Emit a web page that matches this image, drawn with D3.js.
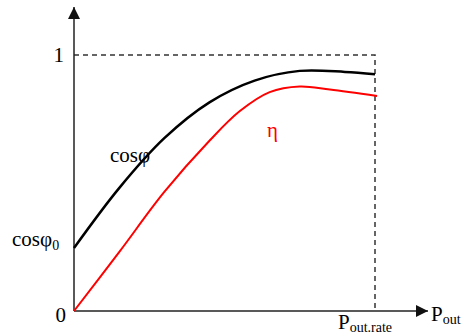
<!DOCTYPE html>
<head>
  <meta charset="UTF-8" />
  <script src="https://d3js.org/d3.v7.min.js"></script>
  <style>
    body { margin: 0; background: #fff; }
    text { font-family: "Liberation Serif", "DejaVu Serif", serif; }
  </style>
</head>
<body>
  <script>
    var width = 464,
      height = 335;

    // Pout / Pout.rate
    var cosX = [0, 0.15, 0.3, 0.45, 0.6, 0.75, 0.9, 1.0];
    var cosY = [0.246, 0.48, 0.675, 0.815, 0.9, 0.938, 0.934, 0.925];
    var etaX = [0, 0.15, 0.3, 0.45, 0.55, 0.65, 0.75, 0.85, 1.007];
    var etaY = [0, 0.23, 0.465, 0.665, 0.78, 0.855, 0.877, 0.865, 0.84];

    var svg = d3.select("body").append("svg")
      .attr("width", width)
      .attr("height", height);

    var x = d3.scaleLinear().domain([0, 1]).range([74, 375]);
    var y = d3.scaleLinear().domain([0, 1]).range([311, 55]);

    // arrow head
    var defs = svg.append("defs");
    defs.append("marker")
      .attr("id", "arr")
      .attr("viewBox", "0 0 12 12")
      .attr("refX", 12).attr("refY", 6)
      .attr("markerWidth", 12).attr("markerHeight", 12)
      .attr("markerUnits", "userSpaceOnUse")
      .attr("orient", "auto")
      .append("path")
      .attr("d", "M0,0 L12,6 L0,12 Z")
      .attr("fill", "#111");

    // dashed guides
    svg.append("path")
      .attr("d", "M" + x(0) + "," + y(1) + "H" + x(1) + "V" + y(0))
      .attr("fill", "none")
      .attr("stroke", "#333")
      .attr("stroke-width", 1.5)
      .attr("stroke-dasharray", "5,4");

    // axes
    svg.append("line")
      .attr("x1", x(0)).attr("y1", y(0))
      .attr("x2", x(0)).attr("y2", 7)
      .attr("stroke", "#222").attr("stroke-width", 1.5)
      .attr("marker-end", "url(#arr)");
    svg.append("line")
      .attr("x1", x(0)).attr("y1", y(0))
      .attr("x2", 428).attr("y2", y(0))
      .attr("stroke", "#222").attr("stroke-width", 1.5)
      .attr("marker-end", "url(#arr)");

    var line = d3.line()
      .x(function (d) { return x(d[0]); })
      .y(function (d) { return y(d[1]); })
      .curve(d3.curveCatmullRom.alpha(0.5));

    svg.append("path")
      .datum(d3.zip(etaX, etaY))
      .attr("d", line)
      .attr("fill", "none")
      .attr("stroke", "#f00")
      .attr("stroke-width", 2);

    svg.append("path")
      .datum(d3.zip(cosX, cosY))
      .attr("d", line)
      .attr("fill", "none")
      .attr("stroke", "#000")
      .attr("stroke-width", 2.5);

    // labels
    svg.append("text").attr("x", 64).attr("y", y(1) + 7)
      .attr("text-anchor", "end").attr("font-size", 21).text("1");
    svg.append("text").attr("x", 66).attr("y", y(0) + 11)
      .attr("text-anchor", "end").attr("font-size", 21).text("0");

    var c0 = svg.append("text").attr("x", 12).attr("y", 246).attr("font-size", 21);
    c0.append("tspan").text("cosφ");
    c0.append("tspan").attr("font-size", 14).attr("dy", 4).text("0");

    svg.append("text").attr("x", 110).attr("y", 162).attr("font-size", 21).text("cosφ");
    svg.append("text").attr("x", 267).attr("y", 137).attr("font-size", 21)
      .attr("fill", "#f00").text("η");

    var p1 = svg.append("text").attr("x", 431).attr("y", 321).attr("font-size", 21);
    p1.append("tspan").text("P");
    p1.append("tspan").attr("font-size", 14).attr("dy", 3).text("out");

    var p2 = svg.append("text").attr("x", 338).attr("y", 329).attr("font-size", 21);
    p2.append("tspan").text("P");
    p2.append("tspan").attr("font-size", 14).attr("dy", 3).text("out.rate");
  </script>
</body>
